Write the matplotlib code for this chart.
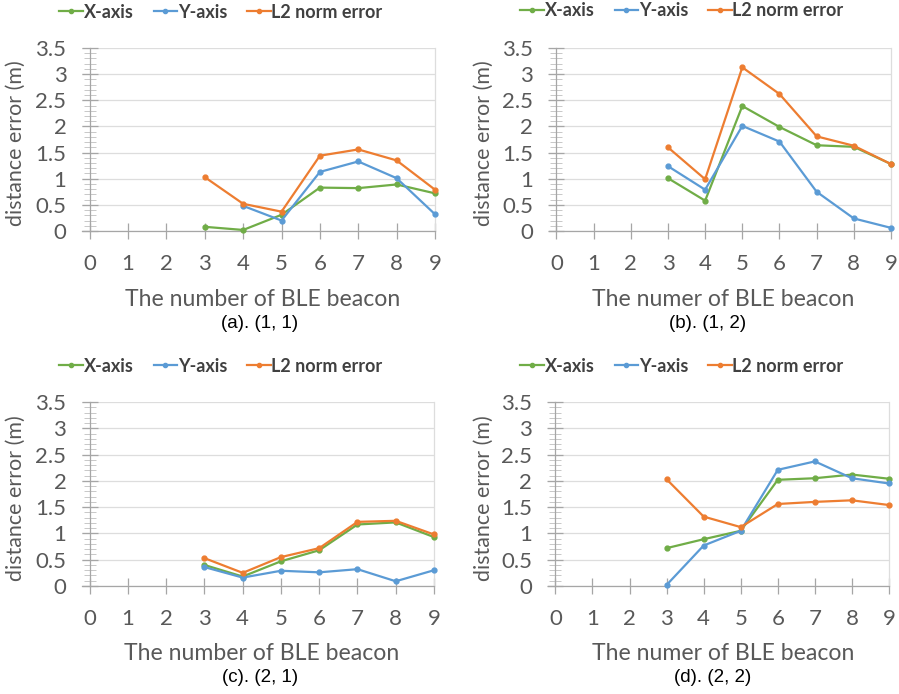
import matplotlib
matplotlib.use('Agg')
import matplotlib.pyplot as plt
from matplotlib.ticker import MultipleLocator
from matplotlib.lines import Line2D

# ---------------- data ----------------
beacons = [3, 4, 5, 6, 7, 8, 9]
x_ticks = [0, 1, 2, 3, 4, 5, 6, 7, 8, 9]
series_names = ["X-axis", "Y-axis", "L2 norm error"]

# (a). (1, 1)
a_x = [0.08, 0.02, 0.31, 0.83, 0.82, 0.89, 0.72]
a_y_beacons = [4, 5, 6, 7, 8, 9]
a_y = [0.48, 0.20, 1.13, 1.33, 1.01, 0.32]
a_l2 = [1.03, 0.52, 0.37, 1.44, 1.56, 1.35, 0.79]

# (b). (1, 2)
b_x = [1.01, 0.58, 2.39, 1.99, 1.64, 1.61, 1.28]
b_y = [1.24, 0.79, 2.01, 1.71, 0.75, 0.24, 0.06]
b_l2 = [1.60, 0.99, 3.13, 2.62, 1.81, 1.63, 1.28]

# (c). (2, 1)
c_x = [0.40, 0.18, 0.47, 0.68, 1.17, 1.21, 0.93]
c_y = [0.36, 0.16, 0.29, 0.26, 0.32, 0.09, 0.30]
c_l2 = [0.53, 0.25, 0.55, 0.72, 1.22, 1.24, 0.98]

# (d). (2, 2)
d_x = [0.72, 0.89, 1.05, 2.02, 2.05, 2.12, 2.04]
d_y = [0.02, 0.77, 1.05, 2.21, 2.37, 2.05, 1.95]
d_l2 = [2.03, 1.32, 1.12, 1.56, 1.60, 1.63, 1.54]

xlabels = ["The number of BLE beacon", "The numer of BLE beacon",
           "The number of BLE beacon", "The numer of BLE beacon"]
captions = ["(a). (1, 1)", "(b). (1, 2)", "(c). (2, 1)", "(d). (2, 2)"]
ylabel = "distance error (m)"

# ---------------- style ----------------
W, H = 899, 694
DPI = 100
GREEN, BLUE, ORANGE = "#70AD47", "#5B9BD5", "#ED7D31"
TXT = "#595959"
AXC = "#A6A6A6"
GRID = "#DDDDDD"
FONT = "Lato"

plt.rcParams['font.family'] = [FONT, 'DejaVu Sans']

fig = plt.figure(figsize=(W / DPI, H / DPI), dpi=DPI)


def fx(px):
    return px / W


def fy(py):
    return 1 - py / H


# panel boxes in pixels: left, right, top(y=3.5), bottom(y=0)
boxes = [(82, 435, 48, 231), (549, 891, 48, 231),
         (82, 434, 402, 586), (548, 889, 402, 586)]
ylabel_x = [16, 484, 16, 484]
legend_cx = [221, 682, 221, 682]
legend_cy = [12, 11, 366, 366]
xlabel_cx = [263, 723, 262, 723]
caption_cx = [260, 708, 260, 713]

panels = [
    ((beacons, a_x), (a_y_beacons, a_y), (beacons, a_l2)),
    ((beacons, b_x), (beacons, b_y), (beacons, b_l2)),
    ((beacons, c_x), (beacons, c_y), (beacons, c_l2)),
    ((beacons, d_x), (beacons, d_y), (beacons, d_l2)),
]
colors = [GREEN, BLUE, ORANGE]

for i, (box, data) in enumerate(zip(boxes, panels)):
    l, r, t, b = box
    ax = fig.add_axes([fx(l), fy(b), fx(r) - fx(l), fy(t) - fy(b)])
    ax.set_xlim(-0.2, 9)
    ax.set_ylim(0, 3.5)
    for (xs, ys), c in zip(data, colors):
        ax.plot(xs, ys, color=c, lw=1.6, marker='o', ms=3.5,
                solid_capstyle='round', solid_joinstyle='round', zorder=3,
                clip_on=False)
    # grid
    ax.yaxis.set_major_locator(MultipleLocator(0.5))
    ax.yaxis.set_minor_locator(MultipleLocator(0.1))
    ax.set_xticks(x_ticks)
    ax.grid(axis='y', which='major', color=GRID, lw=0.9, zorder=0)
    ax.set_axisbelow(True)
    ax.set_yticks([0, 0.5, 1, 1.5, 2, 2.5, 3, 3.5])
    ax.set_yticklabels(["0", "0.5", "1", "1.5", "2", "2.5", "3", "3.5"])
    # spines
    ax.spines['top'].set_visible(False)
    ax.spines['right'].set_color(GRID)
    ax.spines['right'].set_linewidth(0.9)
    ax.spines['left'].set_position(('data', 0))
    ax.spines['left'].set_color(AXC)
    ax.spines['bottom'].set_color(AXC)
    ax.spines['left'].set_linewidth(0.9)
    ax.spines['bottom'].set_linewidth(0.9)
    ax.tick_params(axis='both', which='major', direction='inout',
                   length=11.5, width=0.9, color=AXC, labelcolor=TXT,
                   labelsize=16, pad=11)
    ax.tick_params(axis='y', which='minor', direction='inout',
                   length=9, width=0.7, color="#C8C8C8")
    ax.tick_params(axis='x', which='minor', length=0)
    ax.patch.set_visible(False)

    # texts
    fig.text(fx(ylabel_x[i]), fy((t + b) / 2 + 4), ylabel, rotation=90,
             ha='center', va='center', fontsize=15.4, color=TXT)
    fig.text(fx(xlabel_cx[i]), fy(b + 68), xlabels[i], ha='center',
             va='center', fontsize=16.6, color=TXT)
    fig.text(fx(caption_cx[i]), fy(b + 92), captions[i], ha='center',
             va='center', fontsize=13.5, color='black',
             family='Liberation Sans')

    handles = [Line2D([], [], color=c, lw=1.6, marker='o', ms=3.0)
               for c in colors]
    fig.legend(handles, series_names, loc='center',
               bbox_to_anchor=(fx(legend_cx[i]), fy(legend_cy[i])),
               ncol=3, frameon=False, handlelength=1.3, handletextpad=0.05,
               columnspacing=1.1, numpoints=1,
               prop={'family': FONT, 'weight': 'bold', 'size': 13},
               labelcolor="#404040", borderpad=0, borderaxespad=0)

fig.savefig("out.png", dpi=DPI)
